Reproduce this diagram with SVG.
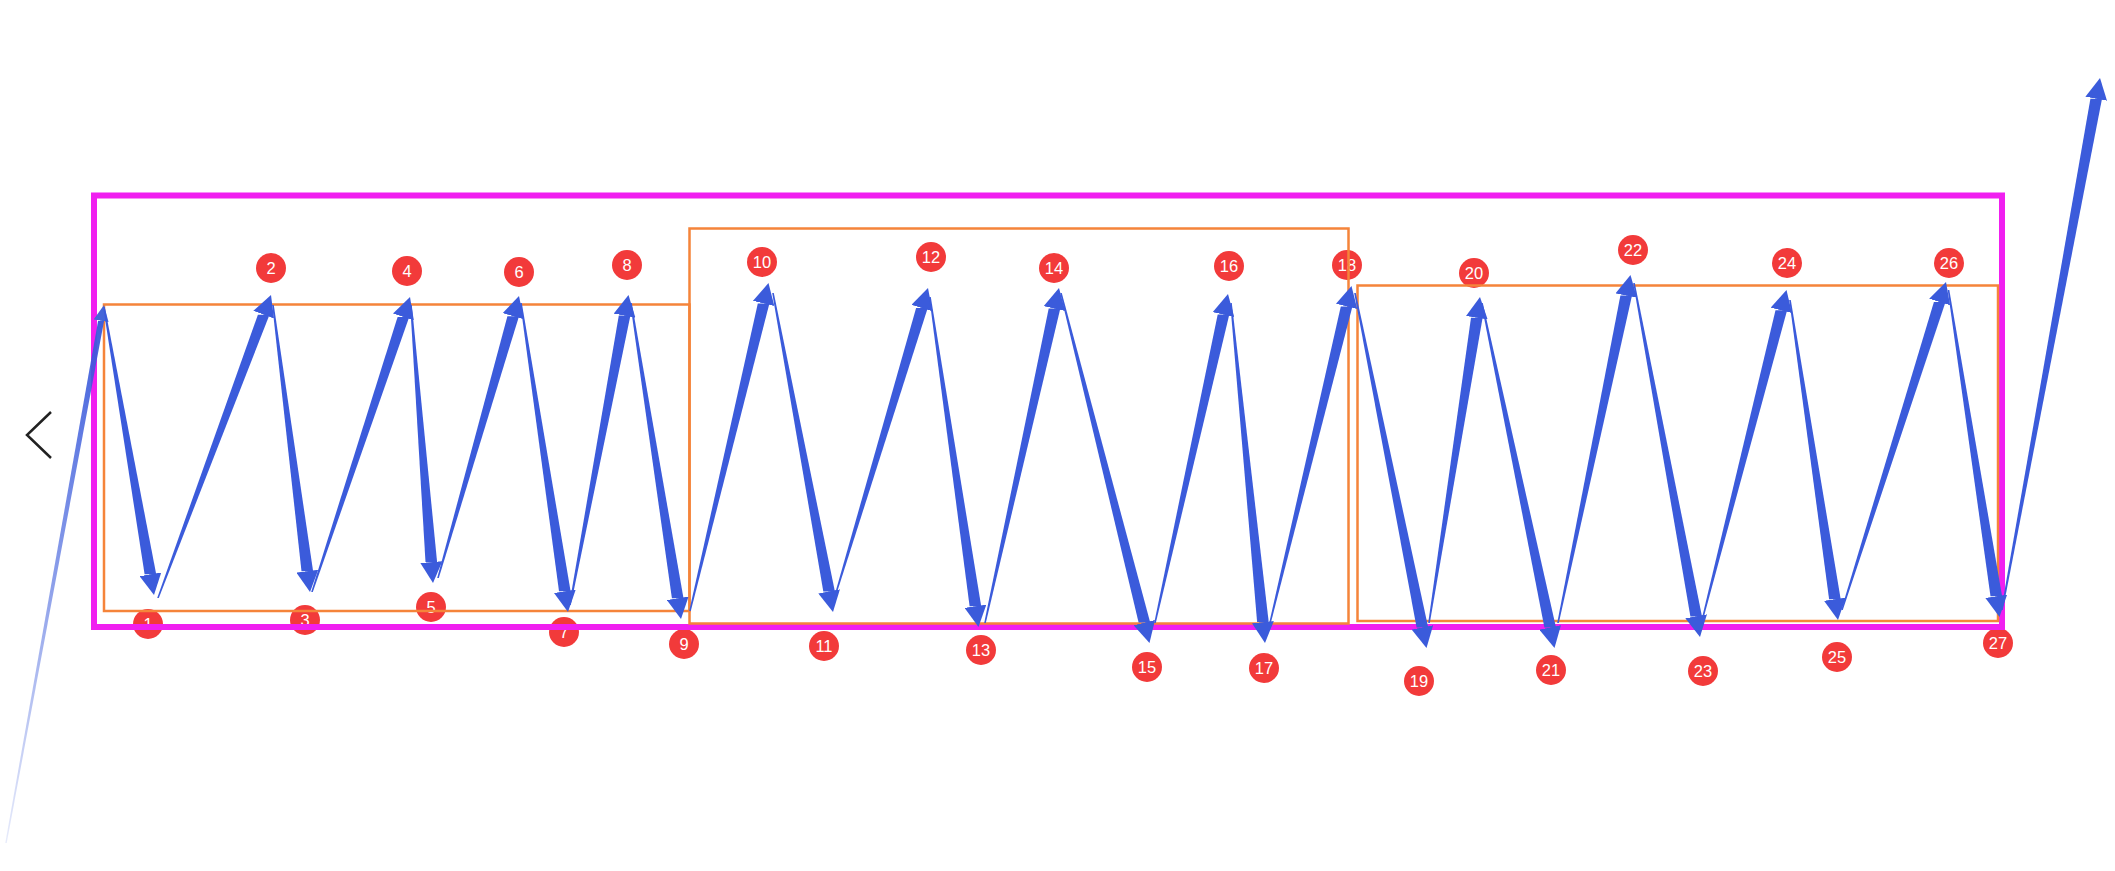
<svg xmlns="http://www.w3.org/2000/svg" width="2115" height="871" viewBox="0 0 2115 871">
<style>
.lbl circle{fill:#f23a3a}
.lbl text{fill:#fff;font-family:"Liberation Sans",Arial,sans-serif;font-size:16.5px;text-anchor:middle}
.box{fill:none}
.orange{stroke:#f5843a;stroke-width:2.5}
.mag{stroke:#f01ff0;stroke-width:6}
.sh{fill:#3b5bdb}
.ln{fill:none;stroke:none;marker-end:url(#ah)}
</style>
<defs>
<marker id="ah" markerUnits="userSpaceOnUse" markerWidth="21" markerHeight="22" viewBox="0 0 21 22" refX="21" refY="11" orient="auto"><path d="M0,0 L21,11 L0,22 z" fill="#3b5bdb"/></marker>
<marker id="ahs" markerUnits="userSpaceOnUse" markerWidth="16" markerHeight="15" viewBox="0 0 16 15" refX="16" refY="7.5" orient="auto"><path d="M0,0 L16,7.5 L0,15 z" fill="#4566d8"/></marker>
<linearGradient id="fade" gradientUnits="userSpaceOnUse" x1="6" y1="843" x2="104" y2="305">
<stop offset="0" stop-color="#3b5bdb" stop-opacity="0.12"/>
<stop offset="0.5" stop-color="#3b5bdb" stop-opacity="0.6"/>
<stop offset="1" stop-color="#3b5bdb" stop-opacity="1"/>
</linearGradient>
</defs>
<rect width="2115" height="871" fill="#fff"/>

<g id="chevron"><polyline points="51,412 27,435 51,458" fill="none" stroke="#222" stroke-width="2.5"/></g>

<g id="labels">
<g id="n1" class="lbl"><circle cx="148" cy="624" r="15"/><text x="148" y="630">1</text></g>
<g id="n2" class="lbl"><circle cx="271" cy="268" r="15"/><text x="271" y="274">2</text></g>
<g id="n3" class="lbl"><circle cx="305" cy="620" r="15"/><text x="305" y="626">3</text></g>
<g id="n4" class="lbl"><circle cx="407" cy="271" r="15"/><text x="407" y="277">4</text></g>
<g id="n5" class="lbl"><circle cx="431" cy="607" r="15"/><text x="431" y="613">5</text></g>
<g id="n6" class="lbl"><circle cx="519" cy="272" r="15"/><text x="519" y="278">6</text></g>
<g id="n7" class="lbl"><circle cx="564" cy="632" r="15"/><text x="564" y="638">7</text></g>
<g id="n8" class="lbl"><circle cx="627" cy="265" r="15"/><text x="627" y="271">8</text></g>
<g id="n9" class="lbl"><circle cx="684" cy="644" r="15"/><text x="684" y="650">9</text></g>
<g id="n10" class="lbl"><circle cx="762" cy="262" r="15"/><text x="762" y="268">10</text></g>
<g id="n11" class="lbl"><circle cx="824" cy="646" r="15"/><text x="824" y="652">11</text></g>
<g id="n12" class="lbl"><circle cx="931" cy="257" r="15"/><text x="931" y="263">12</text></g>
<g id="n13" class="lbl"><circle cx="981" cy="650" r="15"/><text x="981" y="656">13</text></g>
<g id="n14" class="lbl"><circle cx="1054" cy="268" r="15"/><text x="1054" y="274">14</text></g>
<g id="n15" class="lbl"><circle cx="1147" cy="667" r="15"/><text x="1147" y="673">15</text></g>
<g id="n16" class="lbl"><circle cx="1229" cy="266" r="15"/><text x="1229" y="272">16</text></g>
<g id="n17" class="lbl"><circle cx="1264" cy="668" r="15"/><text x="1264" y="674">17</text></g>
<g id="n18" class="lbl"><circle cx="1347" cy="265" r="15"/><text x="1347" y="271">18</text></g>
<g id="n19" class="lbl"><circle cx="1419" cy="681" r="15"/><text x="1419" y="687">19</text></g>
<g id="n20" class="lbl"><circle cx="1474" cy="273" r="15"/><text x="1474" y="279">20</text></g>
<g id="n21" class="lbl"><circle cx="1551" cy="670" r="15"/><text x="1551" y="676">21</text></g>
<g id="n22" class="lbl"><circle cx="1633" cy="250" r="15"/><text x="1633" y="256">22</text></g>
<g id="n23" class="lbl"><circle cx="1703" cy="671" r="15"/><text x="1703" y="677">23</text></g>
<g id="n24" class="lbl"><circle cx="1787" cy="263" r="15"/><text x="1787" y="269">24</text></g>
<g id="n25" class="lbl"><circle cx="1837" cy="657" r="15"/><text x="1837" y="663">25</text></g>
<g id="n26" class="lbl"><circle cx="1949" cy="263" r="15"/><text x="1949" y="269">26</text></g>
<g id="n27" class="lbl"><circle cx="1998" cy="643" r="15"/><text x="1998" y="649">27</text></g>
</g>

<g id="frames">
<rect id="outer" class="box mag" x="94" y="195.5" width="1908" height="431.5"/>
<rect id="group1" class="box orange" x="104" y="304.5" width="585.5" height="306.5"/>
<rect id="group2" class="box orange" x="689.5" y="228.5" width="659" height="395"/>
<rect id="group3" class="box orange" x="1357.5" y="285.5" width="640.5" height="335.5"/>
</g>

<g id="connectors">
<polygon points="5.3,843 98.1,320.7 104.1,320.7 6.7,843" fill="url(#fade)"/>
<path d="M6,843 L104,305" fill="none" stroke="none" marker-end="url(#ahs)"/>

<polygon class="sh" points="103.2,307 144.6,574.3 156.2,574.3 104.8,307"/><path class="ln" d="M104,307 L154,595"/>
<polygon class="sh" points="157.2,598 257.9,314.7 269.5,314.7 158.8,598"/><path class="ln" d="M158,598 L271,295"/>
<polygon class="sh" points="272.2,305 301.5,571.2 313.1,571.2 273.8,305"/><path class="ln" d="M273,305 L310,592"/>
<polygon class="sh" points="311.2,592 397.6,316.9 409.2,316.9 312.8,592"/><path class="ln" d="M312,592 L410,297"/>
<polygon class="sh" points="410.2,305 425.5,562.1 437.1,562.1 411.8,305"/><path class="ln" d="M411,305 L433,583"/>
<polygon class="sh" points="437.2,578 507.4,316.2 519,316.2 438.8,578"/><path class="ln" d="M438,578 L519,296"/>
<polygon class="sh" points="520.2,303 559,591.2 570.6,591.2 521.8,303"/><path class="ln" d="M521,303 L568,612"/>
<polygon class="sh" points="569.2,605 618.8,315.6 630.4,315.6 570.8,605"/><path class="ln" d="M570,605 L628.5,295"/>
<polygon class="sh" points="630.2,303 671.9,598.3 683.5,598.3 631.8,303"/><path class="ln" d="M631,303 L681,619"/>
<polygon class="sh" points="689.2,611 757.8,303.4 769.4,303.4 690.8,611"/><path class="ln" d="M690,611 L768.5,283"/>
<polygon class="sh" points="772.2,293 823.3,591.4 834.9,591.4 773.8,293"/><path class="ln" d="M773,293 L833,612"/>
<polygon class="sh" points="835.2,593 916.1,308.1 927.7,308.1 836.8,593"/><path class="ln" d="M836,593 L928,288"/>
<polygon class="sh" points="929.2,297 969.6,606.2 981.2,606.2 930.8,297"/><path class="ln" d="M930,297 L978.5,627"/>
<polygon class="sh" points="984.2,623 1048.7,308.5 1060.3,308.5 985.8,623"/><path class="ln" d="M985,623 L1059,288"/>
<polygon class="sh" points="1060.2,293 1138.6,622.6 1150.2,622.6 1061.8,293"/><path class="ln" d="M1061,293 L1149.5,643"/>
<polygon class="sh" points="1154.2,623 1217.7,314.5 1229.3,314.5 1155.8,623"/><path class="ln" d="M1155,623 L1228,294"/>
<polygon class="sh" points="1230.2,303 1257.1,622.1 1268.7,622.1 1231.8,303"/><path class="ln" d="M1231,303 L1265,643"/>
<polygon class="sh" points="1269.2,623 1340.8,306.4 1352.4,306.4 1270.8,623"/><path class="ln" d="M1270,623 L1351.5,286"/>
<polygon class="sh" points="1354.2,293 1416.6,627.4 1428.2,627.4 1355.8,293"/><path class="ln" d="M1355,293 L1426.5,648"/>
<polygon class="sh" points="1428.2,623 1471,317.8 1482.6,317.8 1429.8,623"/><path class="ln" d="M1429,623 L1480,297"/>
<polygon class="sh" points="1481.2,303 1544.4,627.5 1556,627.5 1482.8,303"/><path class="ln" d="M1482,303 L1554.5,648"/>
<polygon class="sh" points="1557.2,623 1620.4,295.6 1632,295.6 1558.8,623"/><path class="ln" d="M1558,623 L1630.5,275"/>
<polygon class="sh" points="1633.2,283 1690.4,616.4 1702,616.4 1634.8,283"/><path class="ln" d="M1634,283 L1700,637"/>
<polygon class="sh" points="1702.2,617 1775.5,310.3 1787.1,310.3 1703.8,617"/><path class="ln" d="M1703,617 L1786.5,290"/>
<polygon class="sh" points="1789.2,300 1829.1,599.2 1840.7,599.2 1790.8,300"/><path class="ln" d="M1790,300 L1838,620"/>
<polygon class="sh" points="1841.2,610 1933.9,302 1945.5,302 1842.8,610"/><path class="ln" d="M1842,610 L1946,282"/>
<polygon class="sh" points="1947.7,290 1990.5,596.3 2002.1,596.3 1949.3,290"/><path class="ln" d="M1948.5,290 L1999.5,617"/>
<polygon class="sh" points="2001.2,610 2090.4,98.7 2102,98.7 2002.8,610"/><path class="ln" d="M2002,610 L2100,78"/>
</g>
</svg>
